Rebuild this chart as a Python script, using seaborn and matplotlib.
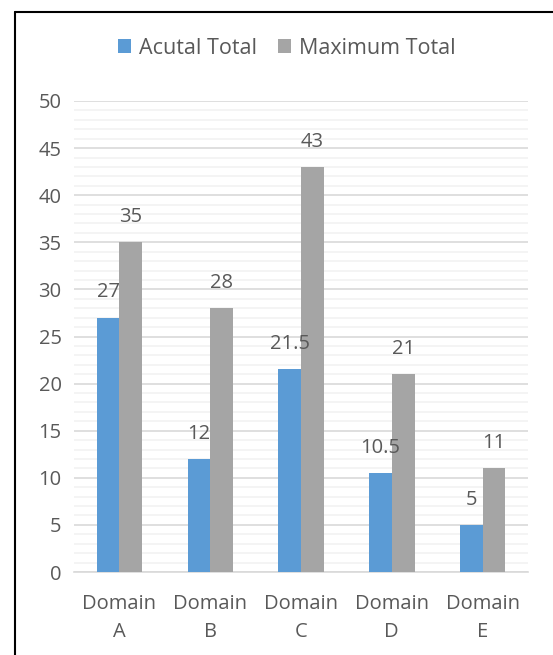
import pandas as pd
import numpy as np
import matplotlib.pyplot as plt
from matplotlib.lines import Line2D
from matplotlib.ticker import MultipleLocator
import seaborn as sns

# datos
dominios = ["Domain\nA", "Domain\nB", "Domain\nC", "Domain\nD", "Domain\nE"]
actual_total = [27, 12, 21.5, 10.5, 5]
maximum_total = [35, 28, 43, 21, 11]
series = ["Acutal Total", "Maximum Total"]
colores = ["#5B9BD5", "#A5A5A5"]

df = pd.DataFrame({
    "Dominio": dominios * 2,
    "Valor": actual_total + maximum_total,
    "Serie": [series[0]] * len(dominios) + [series[1]] * len(dominios),
})

sns.set_style("white")
plt.rcParams["font.family"] = ["Open Sans", "DejaVu Sans"]
gris_texto = "#595959"

fig = plt.figure(figsize=(5.53, 6.55), dpi=100)
ax = fig.add_axes([74 / 553, 1 - 572 / 655, 454 / 553, 471 / 655])

sns.barplot(data=df, x="Dominio", y="Valor", hue="Serie", palette=colores,
            width=0.5, saturation=1, linewidth=0, ax=ax, zorder=3, legend=True)

# etiquetas de valores
for cont in ax.containers:
    etiquetas = [f"{v:g}" for v in cont.datavalues]
    ax.bar_label(cont, labels=etiquetas, padding=11, fontsize=14.5, color=gris_texto)

ax.set_ylim(0, 50)
ax.set_xlim(-0.5, 4.5)
ax.yaxis.set_major_locator(MultipleLocator(5))
ax.yaxis.set_minor_locator(MultipleLocator(1))
ax.grid(which="major", axis="y", color="#D9D9D9", linewidth=1.2, zorder=0)
ax.grid(which="minor", axis="y", color="#F2F2F2", linewidth=1.2, zorder=0)
ax.set_axisbelow(True)

for lado in ["top", "right", "left"]:
    ax.spines[lado].set_visible(False)
ax.spines["bottom"].set_color("#D9D9D9")
ax.spines["bottom"].set_linewidth(1.2)

ax.set_xlabel("")
ax.set_ylabel("")
ax.tick_params(axis="both", which="both", length=0, labelsize=14.5, labelcolor=gris_texto)
ax.tick_params(axis="y", pad=9)
ax.tick_params(axis="x", pad=16)
for t in ax.get_xticklabels():
    t.set_linespacing(1.5)

ax.legend(loc="center", bbox_to_anchor=(287 / 553, 1 - 48 / 655), bbox_transform=fig.transFigure,
          ncol=2, frameon=False, fontsize=15.5, labelcolor=gris_texto,
          handlelength=0.6, handleheight=0.6, handletextpad=0.35, columnspacing=1.0)

# marco
fig.add_artist(Line2D([14.5 / 553, 14.5 / 553], [0, 1 - 11.5 / 655], color="black", linewidth=1.5))
fig.add_artist(Line2D([14.5 / 553, 1], [1 - 11.5 / 655, 1 - 11.5 / 655], color="black", linewidth=1.5))

fig.savefig("out.png", dpi=100)
